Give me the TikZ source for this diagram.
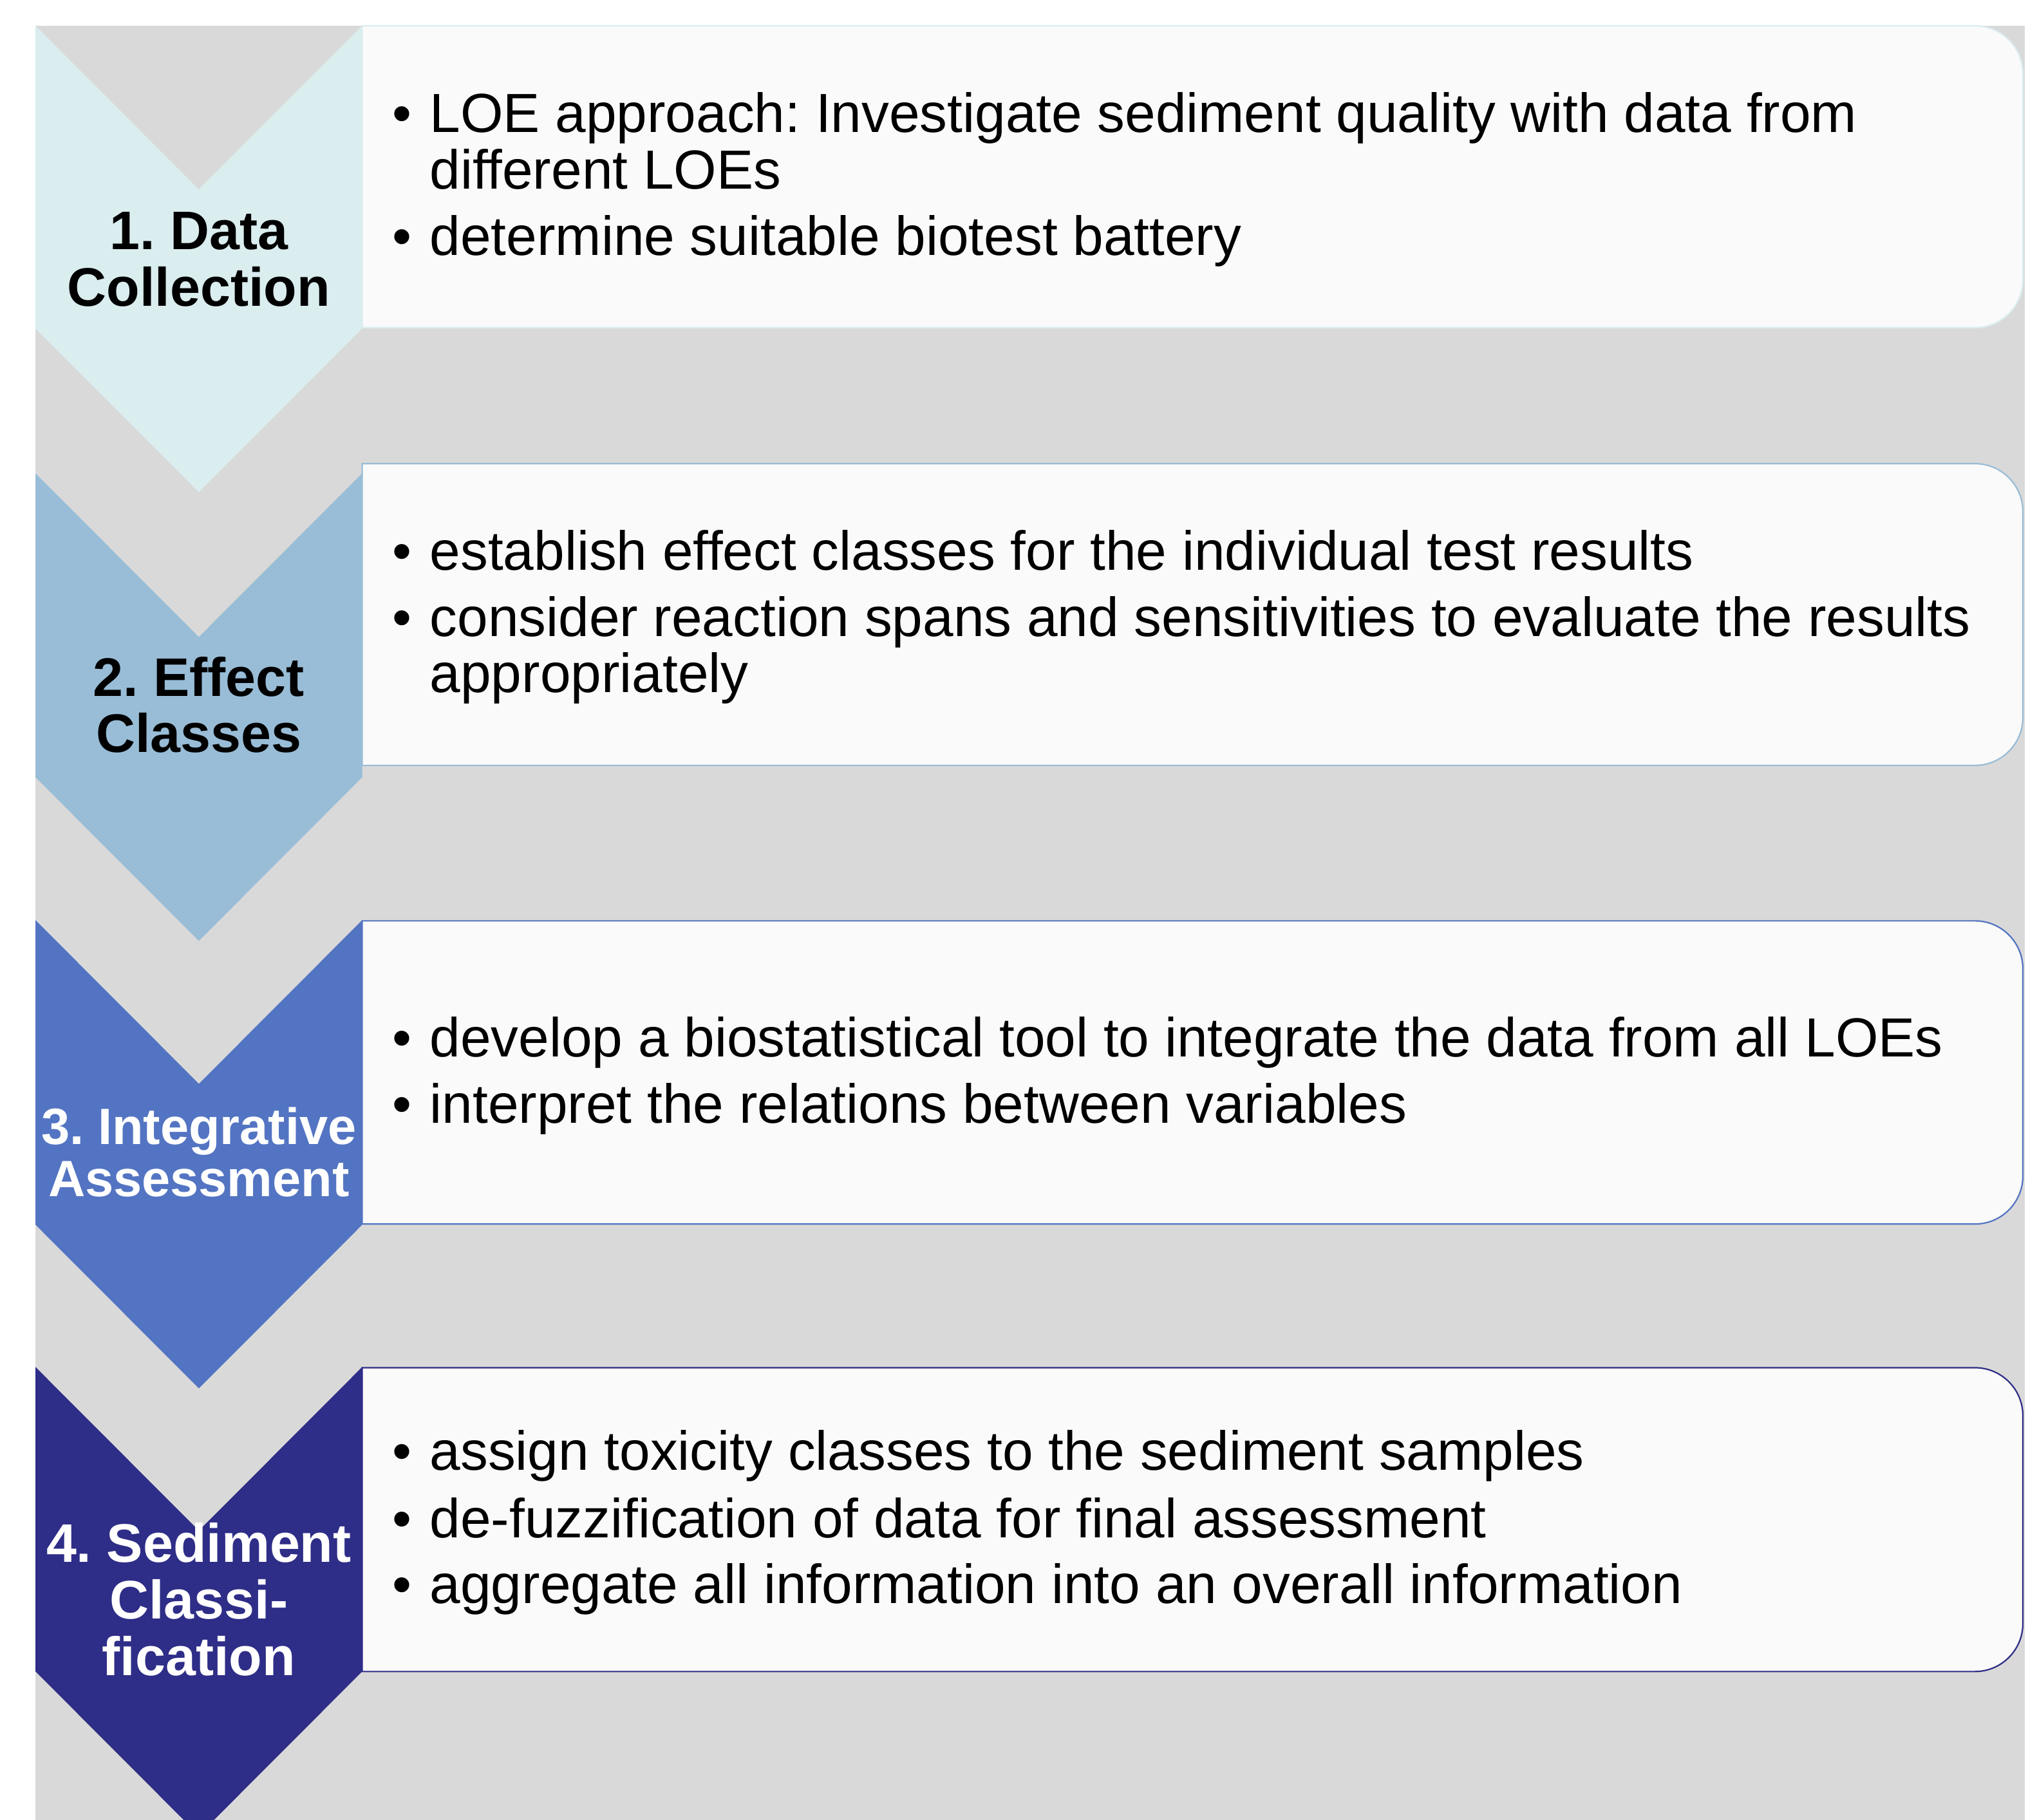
\documentclass[tikz,border=0pt]{standalone}
\usepackage{fontspec}
\setmainfont{Liberation Sans}
\frenchspacing

\definecolor{bggray}{HTML}{D9D9D9}
\definecolor{stepA}{HTML}{DAEDEF}
\definecolor{stepB}{HTML}{99BDD7}
\definecolor{stepC}{HTML}{5374C2}
\definecolor{stepD}{HTML}{2E2D87}
\definecolor{panelfill}{HTML}{FAFAFA}

\tikzset{
  chev/.style={fill=#1, draw=none},
  infobox/.style={fill=panelfill, draw=#1, line width=0.55pt},
  head/.style={font=\bfseries\fontsize{21pt}{25pt}\selectfont, text=#1, inner sep=0pt, anchor=base},
  headsmall/.style={font=\bfseries\fontsize{19.75pt}{24pt}\selectfont, text=#1, inner sep=0pt, anchor=base},
  bodyline/.style={font=\fontsize{21.3pt}{25pt}\selectfont, inner sep=0pt, anchor=base west},
  bulletmark/.style={font=\fontsize{21.3pt}{25pt}\selectfont, inner sep=0pt, anchor=base},
}

% chevron: colour, top edge, shoulder
\newcommand\chevronshape[3]{%
  \path[chev=#1] (27.5,#2) -- (153.75,#2+126.5) -- (280,#2) -- (280,#3)
    -- (153.75,#3+126.5) -- (27.5,#3) -- cycle;}

% text panel with rounded right corners: colour, top, bottom
\newcommand\infopanel[3]{%
  \path[infobox=#1] (280,#2) -- (1527,#2)
    .. controls (1547.4,#2) and (1564,#2+16.6) .. (1564,#2+37)
    -- (1564,#3-37)
    .. controls (1564,#3-16.6) and (1547.4,#3) .. (1527,#3)
    -- (280,#3) -- cycle;}

\begin{document}
\frenchspacing
\begin{tikzpicture}[x=0.5pt,y=-0.5pt]
  \useasboundingbox (0,0) rectangle (1568,1407);
  \clip (0,0) rectangle (1568,1407);
  \fill[white] (0,0) rectangle (1568,1407);
  \fill[bggray] (27.5,20) rectangle (1565.5,1410);

  % text panels
  \infopanel{stepA}{20}{253.4}
  \infopanel{stepB}{358.5}{591.8}
  \infopanel{stepC}{712}{946.4}
  \infopanel{stepD}{1057.5}{1292.4}

  % step chevrons
  \chevronshape{stepA}{20}{254}
  \chevronshape{stepB}{366}{601}
  \chevronshape{stepC}{711.5}{947}
  \chevronshape{stepD}{1057}{1292.4}

  % step titles
  \node[head=black] (h1a) at (153.75,193) {1. Data};
  \node[head=black] (h1b) at (153.75,236.8) {Collection};
  \node[head=black] (h2a) at (153.75,538.2) {2. Effect};
  \node[head=black] (h2b) at (153.75,581.4) {Classes};
  \node[headsmall=white] (h3a) at (153.75,884.7) {3. Integrative};
  \node[headsmall=white] (h3b) at (153.75,925.3) {Assessment};
  \node[head=white] (h4a) at (153.75,1207.7) {4. Sediment};
  \node[head=white] (h4b) at (153.75,1251.5) {Classi-};
  \node[head=white] (h4c) at (153.75,1295.4) {fication};

  % panel 1
  \node[bulletmark] (b1a) at (311,102.5) {•};
  \node[bodyline] (t1a) at (332,102.5) {LOE approach: Investigate sediment quality with data from};
  \node[bodyline] (t1b) at (332,146.3) {different LOEs};
  \node[bulletmark] (b1c) at (311,197.4) {•};
  \node[bodyline] (t1c) at (332,197.4) {determine suitable biotest battery};

  % panel 2
  \node[bulletmark] (b2a) at (311,441) {•};
  \node[bodyline] (t2a) at (332,441) {establish effect classes for the individual test results};
  \node[bulletmark] (b2b) at (311,492.1) {•};
  \node[bodyline] (t2b) at (332,492.1) {consider reaction spans and sensitivities to evaluate the results};
  \node[bodyline] (t2c) at (332,535.5) {appropriately};

  % panel 3
  \node[bulletmark] (b3a) at (311,817.1) {•};
  \node[bodyline] (t3a) at (332,817.1) {develop a biostatistical tool to integrate the data from all LOEs};
  \node[bulletmark] (b3b) at (311,868.5) {•};
  \node[bodyline] (t3b) at (332,868.5) {interpret the relations between variables};

  % panel 4
  \node[bulletmark] (b4a) at (311,1136.8) {•};
  \node[bodyline] (t4a) at (332,1136.8) {assign toxicity classes to the sediment samples};
  \node[bulletmark] (b4b) at (311,1188.7) {•};
  \node[bodyline] (t4b) at (332,1188.7) {de-fuzzification of data for final assessment};
  \node[bulletmark] (b4c) at (311,1239.8) {•};
  \node[bodyline] (t4c) at (332,1239.8) {aggregate all information into an overall information};
\end{tikzpicture}
\end{document}
